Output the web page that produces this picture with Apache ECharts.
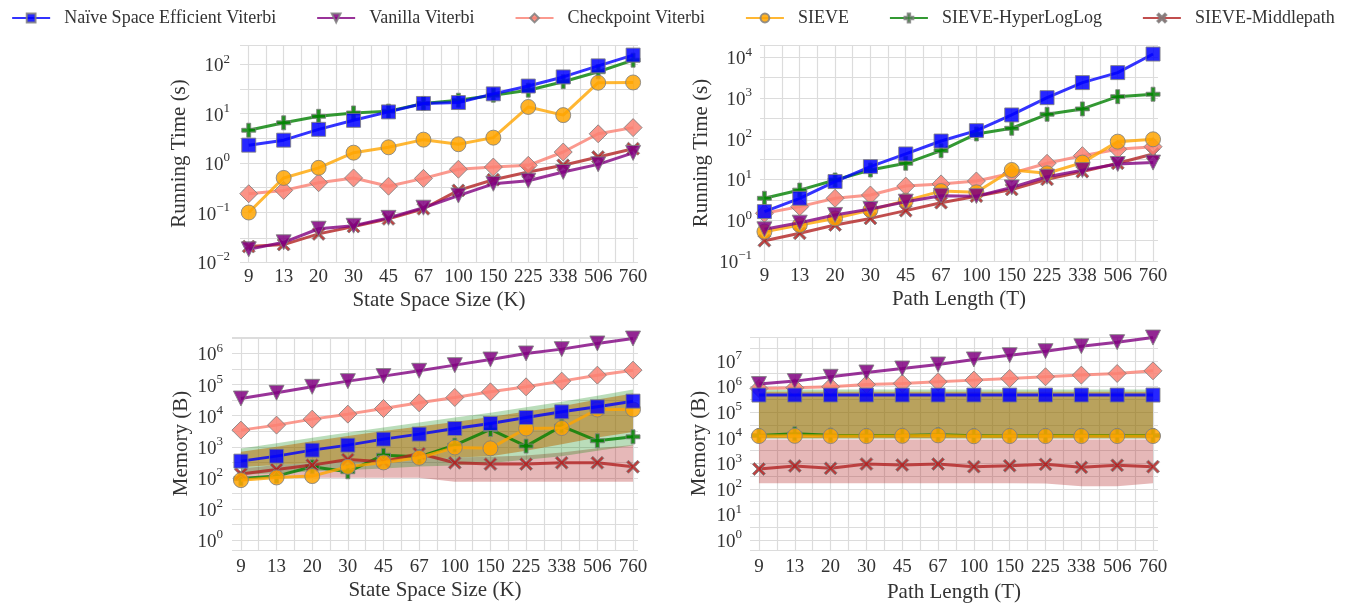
<!DOCTYPE html>
<html>
<head>
<meta charset="utf-8">
<script src="https://cdn.jsdelivr.net/npm/echarts@6/dist/echarts.min.js"></script>
<style>
html,body{margin:0;padding:0;background:#fff;}
#chart{width:1346px;height:604px;}
</style>
</head>
<body>
<div id="chart"></div>
<script>
// ---------------- data ----------------
const sizeLabels = ['9','13','20','30','45','67','100','150','225','338','506','760'];
const seriesNames = ['Naïve Space Efficient Viterbi','Vanilla Viterbi','Checkpoint Viterbi','SIEVE','SIEVE-HyperLogLog','SIEVE-Middlepath'];

// Running time vs state space size K
const naiveTimeK      = [2.3, 2.9, 4.8, 7.3, 10.8, 16, 16.7, 25, 36, 55, 92, 152];
const vanillaTimeK    = [0.018, 0.025, 0.047, 0.054, 0.078, 0.125, 0.22, 0.38, 0.44, 0.66, 0.94, 1.6];
const checkpointTimeK = [0.24, 0.28, 0.40, 0.50, 0.34, 0.49, 0.75, 0.83, 0.90, 1.67, 3.9, 5.2];
const sieveTimeK      = [0.1, 0.5, 0.8, 1.62, 2.08, 2.97, 2.4, 3.26, 13.6, 9.3, 42, 42.5];
const hllTimeK        = [4.6, 6.5, 8.8, 10.3, 11.2, 16, 18.6, 23.5, 29.7, 44, 70, 120];
const midTimeK        = [0.0205, 0.0225, 0.037, 0.052, 0.0745, 0.119, 0.28, 0.46, 0.66, 0.9, 1.32, 1.95];

// Running time vs path length T
const naiveTimeT      = [1.63, 3.46, 8.9, 20.7, 42.4, 88, 158, 384, 1020, 2390, 4200, 12000];
const vanillaTimeT    = [0.6, 0.87, 1.35, 1.89, 2.86, 4.0, 3.9, 6.4, 11.7, 17, 24, 26];
const checkpointTimeT = [1.48, 2.16, 3.46, 4.17, 6.9, 7.8, 9.2, 14.2, 25, 38.5, 55, 64];
const sieveTimeT      = [0.525, 0.765, 1.11, 1.79, 3.03, 5.2, 4.85, 17.1, 14.2, 26, 85, 97];
const hllTimeT        = [3.46, 5.5, 9.75, 17.1, 25, 51, 131, 181, 399, 540, 1080, 1240];
const midTimeT        = [0.315, 0.478, 0.765, 1.11, 1.72, 2.7, 3.9, 5.7, 10.1, 15.6, 25, 42.4];

// Memory vs state space size K
const naiveMemK       = [345, 500, 780, 1130, 1760, 2550, 3870, 5610, 8750, 13300, 19300, 29300];
const vanillaMemK     = [35700, 54300, 84700, 129000, 187000, 277000, 422000, 641000, 1000000, 1380000, 2100000, 3030000];
const checkpointMemK  = [3430, 4970, 7740, 11200, 17000, 25900, 38500, 58500, 84700, 129000, 201000, 291000];
const sieveMemK       = [84.5, 103, 114, 227, 313, 442, 951, 890, 3870, 4000, 15800, 15800];
const hllMemK         = [95.7, 114, 227, 157, 538, 475, 1130, 3600, 1050, 4610, 1556, 2090];
const midMemK         = [132, 186, 257, 391, 329, 609, 305, 277, 277, 305, 305, 227];
const hllMemKLow      = [125, 140, 160, 180, 200, 230, 250, 300, 380, 500, 750, 1100];
const hllMemKHigh     = [880, 1300, 1950, 2900, 4200, 6000, 8700, 12500, 18500, 28000, 44000, 69000];
const sieveMemKLow    = [225, 260, 300, 340, 380, 420, 450, 500, 750, 1200, 2000, 3000];
const sieveMemKHigh   = [690, 1000, 1500, 2200, 3200, 4500, 6300, 9000, 13500, 20000, 33000, 52000];
const midMemKLow      = [100, 100, 100, 100, 100, 100, 75, 75, 75, 75, 75, 75];
const midMemKHigh     = [200, 260, 300, 350, 380, 420, 450, 480, 520, 650, 900, 1150];

// Memory vs path length T
const naiveMemT       = [460000, 460000, 460000, 460000, 460000, 460000, 460000, 460000, 460000, 460000, 460000, 460000];
const vanillaMemT     = [1.23e6, 1.61e6, 2.38e6, 3.5e6, 5.0e6, 7.2e6, 1.13e7, 1.66e7, 2.38e7, 3.73e7, 5.35e7, 8.1e7];
const checkpointMemT  = [8.3e5, 8.9e5, 9.7e5, 1.19e6, 1.31e6, 1.52e6, 1.76e6, 2.05e6, 2.38e6, 2.76e6, 3.2e6, 4.07e6];
const sieveMemT       = [11500, 11700, 11500, 11500, 11700, 12200, 11300, 11500, 11500, 11500, 11500, 11500];
const hllMemT         = [12000, 14000, 12500, 12000, 12200, 12800, 11800, 11800, 12000, 12000, 12000, 12000];
const midMemT         = [594, 778, 631, 931, 851, 931, 733, 801, 903, 690, 826, 733];
const hllMemTLow      = [9000, 9000, 9000, 9000, 9000, 9000, 9000, 9000, 9000, 9000, 9000, 9000];
const hllMemTHigh     = [760000, 760000, 760000, 760000, 760000, 760000, 760000, 760000, 760000, 760000, 760000, 760000];
const sieveMemTLow    = [9500, 9500, 9500, 9500, 9500, 9500, 9500, 9500, 9500, 9500, 9500, 9500];
const sieveMemTHigh   = [620000, 620000, 620000, 620000, 620000, 620000, 620000, 620000, 620000, 620000, 620000, 620000];
const midMemTLow      = [165, 165, 165, 165, 165, 165, 165, 165, 160, 125, 125, 165];
const midMemTHigh     = [8500, 8500, 8500, 8500, 8500, 8500, 8500, 8500, 8500, 8500, 8500, 8500];

// tick label exponents (as printed in the figure)
const timeKExpLabels = ['−2','−1','0','1','2'];   // from 10^-2
const timeTExpLabels = ['−1','0','1','2','3','4']; // from 10^-1
const memKExpLabels  = ['0','2','2','3','4','5','6']; // from 10^0
const memTExpLabels  = ['0','1','2','3','4','5','6','7']; // from 10^0

// ---------------- styling ----------------
const FONT = 'Liberation Serif';
const TXT = '#333333';
const GRIDC = '#dcdcdc';
const colors = ['#0000ff','#800080','#fa8072','#ffa500','#008000','#b22222'];
const plusPath = 'path://M3.6,0 H6.4 V3.6 H10 V6.4 H6.4 V10 H3.6 V6.4 H0 V3.6 H3.6 Z';
const xPath = 'path://M1.5,0 L5,3.5 L8.5,0 L10,1.5 L6.5,5 L10,8.5 L8.5,10 L5,6.5 L1.5,10 L0,8.5 L3.5,5 L0,1.5 Z';
const symbols = ['rect','triangle','diamond','circle',plusPath,xPath];
const symSizes = [14,15,18,15,14,13];
const symRot = [0,180,0,0,0,0];
const zOrder = [8,7,5,6,3,4];

const grids = [
  {left:240, top:45, width:398, height:217},
  {left:760, top:45, width:398, height:216},
  {left:232, top:337, width:406, height:213},
  {left:750, top:337, width:408, height:213}
];
const yRanges = [
  [0.01, 243],
  [0.1, 20000],
  [Math.pow(10,-0.32), Math.pow(10,6.53)],
  [Math.pow(10,-0.39), Math.pow(10,7.93)]
];

function expFormatter(labels, lowExp){
  return function(v){
    const e = Math.log10(v);
    const r = Math.round(e);
    if (Math.abs(e - r) > 1e-6) return '';
    const idx = r - lowExp;
    if (idx < 0 || idx >= labels.length) return '';
    return '{b|10}{s|' + labels[idx] + '}';
  };
}

function xAxis(gi, name, min, step, colorsCycle, nameGap, margin){
  return {
    type:'value', gridIndex:gi, min:min, max:11.14, interval:step,
    name:name, nameLocation:'middle', nameGap:nameGap,
    nameTextStyle:{fontFamily:FONT, fontSize:21, color:TXT},
    axisLine:{show:false}, axisTick:{show:false},
    axisLabel:{fontFamily:FONT, fontSize:19, color:TXT, margin:margin,
      formatter:function(v){ const r=Math.round(v); if (Math.abs(v-r)>1e-6||r<0||r>=sizeLabels.length) return ''; return sizeLabels[r]; }},
    splitLine:{show:true, lineStyle:{color:colorsCycle, width:1.2}}
  };
}
function yAxis(gi, name, labels, lowExp, nameGap, margin){
  return {
    type:'log', logBase:10, gridIndex:gi, min:yRanges[gi][0], max:yRanges[gi][1],
    name:name, nameLocation:'middle', nameGap:nameGap,
    nameTextStyle:{fontFamily:FONT, fontSize:21, color:TXT},
    axisLine:{show:false}, axisTick:{show:false},
    axisLabel:{color:TXT, margin:margin, formatter:expFormatter(labels, lowExp),
      rich:{b:{fontFamily:FONT, fontSize:19, color:TXT, verticalAlign:'bottom'},
            s:{fontFamily:FONT, fontSize:13, color:TXT, verticalAlign:'top', padding:[0,0,10,0]}}},
    splitLine:{show:true, lineStyle:{color:GRIDC, width:1.2}}
  };
}

const c2 = ['rgba(0,0,0,0)', GRIDC];
const c4 = ['rgba(0,0,0,0)', GRIDC, 'rgba(0,0,0,0)', 'rgba(0,0,0,0)'];

const xAxes = [
  xAxis(0, 'State Space Size (K)', -0.25, 0.25, c2, 28, 6),
  xAxis(1, 'Path Length (T)', -0.125, 0.125, c4, 28, 6),
  xAxis(2, 'State Space Size (K)', -0.25, 0.25, c2, 30, 8),
  xAxis(3, 'Path Length (T)', -0.25, 0.25, c2, 32, 8)
];
const yAxes = [
  yAxis(0, 'Running Time (s)', timeKExpLabels, -2, 50, 10),
  yAxis(1, 'Running Time (s)', timeTExpLabels, -1, 48, 8),
  yAxis(2, 'Memory (B)', memKExpLabels, 0, 40, 9),
  yAxis(3, 'Memory (B)', memTExpLabels, 0, 40, 8)
];

const panels = [
  [naiveTimeK, vanillaTimeK, checkpointTimeK, sieveTimeK, hllTimeK, midTimeK],
  [naiveTimeT, vanillaTimeT, checkpointTimeT, sieveTimeT, hllTimeT, midTimeT],
  [naiveMemK, vanillaMemK, checkpointMemK, sieveMemK, hllMemK, midMemK],
  [naiveMemT, vanillaMemT, checkpointMemT, sieveMemT, hllMemT, midMemT]
];

const series = [];

// half-decade horizontal grid lines (minor grid)
yRanges.forEach((rg, gi)=>{
  const lines = [];
  for (let k = Math.floor(Math.log10(rg[0])) - 1; k <= Math.ceil(Math.log10(rg[1])); k++) {
    const v = Math.pow(10, k + 0.5);
    if (v > rg[0] && v < rg[1]) lines.push({yAxis: v});
  }
  series.push({
    type:'line', xAxisIndex:gi, yAxisIndex:gi, data:[], z:0, silent:true,
    markLine:{silent:true, z:0, symbol:'none', animation:false, label:{show:false},
      lineStyle:{color:GRIDC, width:1.2, type:'solid'}, emphasis:{disabled:true}, data:lines}
  });
});

function band(gi, low, high, fill, z){
  series.push({
    type:'custom', xAxisIndex:gi, yAxisIndex:gi, z:z, silent:true, clip:true,
    data: low.map((l,i)=>[i, l, high[i]]),
    encode:{x:0, y:[1,2]},
    renderItem:function(params, api){
      if (params.dataIndex !== 0) return null;
      const pts = [];
      for (let i=0;i<high.length;i++) pts.push(api.coord([i, high[i]]));
      for (let i=low.length-1;i>=0;i--) pts.push(api.coord([i, low[i]]));
      return {type:'polygon', shape:{points:pts}, style:{fill:fill}};
    }
  });
}
band(2, midMemKLow, midMemKHigh, 'rgba(178,34,34,0.32)', 1);
band(2, hllMemKLow, hllMemKHigh, 'rgba(0,128,0,0.27)', 1);
band(2, sieveMemKLow, sieveMemKHigh, 'rgba(183,103,0,0.5)', 1);
band(3, midMemTLow, midMemTHigh, 'rgba(178,34,34,0.32)', 1);
band(3, hllMemTLow, hllMemTHigh, 'rgba(0,128,0,0.27)', 1);
band(3, sieveMemTLow, sieveMemTHigh, 'rgba(183,103,0,0.5)', 1);

panels.forEach((arrs, gi)=>{
  arrs.forEach((arr, si)=>{
    series.push({
      name: seriesNames[si], type:'line', xAxisIndex:gi, yAxisIndex:gi,
      data: arr.map((v,i)=>[i, v]),
      symbol: symbols[si], symbolSize: symSizes[si], symbolRotate: symRot[si],
      z: zOrder[si],
      lineStyle:{color:colors[si], width:3, opacity:0.8},
      itemStyle:{color:colors[si], borderColor:'#808080', borderWidth:1, opacity:0.85},
      emphasis:{disabled:true}, animation:false
    });
  });
});

const chart = echarts.init(document.getElementById('chart'), null, {renderer:'canvas'});
chart.setOption({
  animation:false,
  backgroundColor:'#ffffff',
  legend:{
    data: seriesNames, top:4, left:'center',
    itemWidth:38, itemHeight:11, itemGap:40,
    textStyle:{fontFamily:FONT, fontSize:18, color:TXT, padding:[0,0,0,9]}
  },
  grid: grids,
  xAxis: xAxes,
  yAxis: yAxes,
  series: series
});
</script>
</body>
</html>
